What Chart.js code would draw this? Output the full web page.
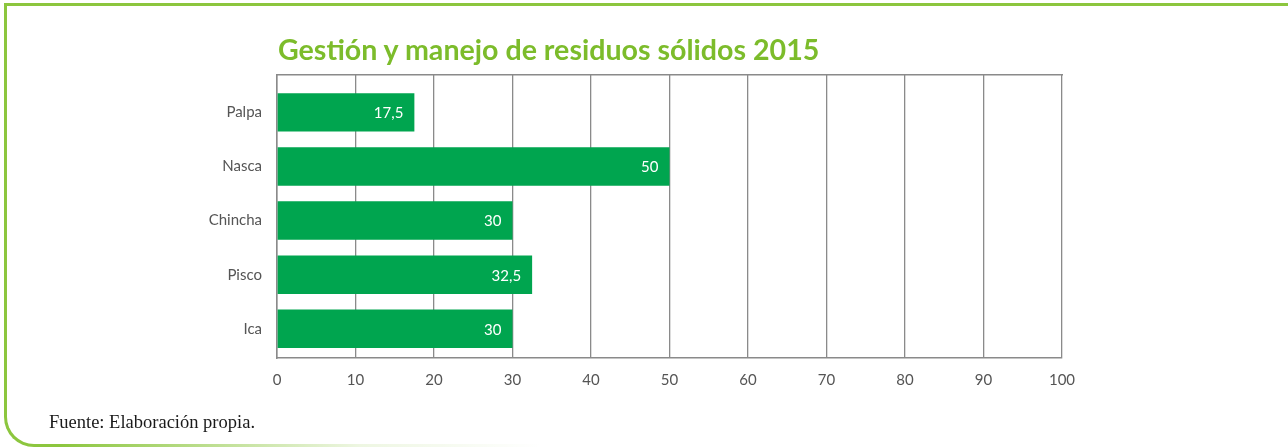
<!DOCTYPE html>
<html lang="es">
<head>
<meta charset="utf-8">
<title>Gestión y manejo de residuos sólidos 2015</title>
<script src="https://cdn.jsdelivr.net/npm/chart.js@4.4.1/dist/chart.umd.min.js"></script>
<style>
  html, body { margin: 0; padding: 0; background: #fff; }
  .page { position: relative; width: 1288px; height: 448px; overflow: hidden; }
  .frame {
    position: absolute; left: 4px; top: 3px; width: 1320px; height: 444px;
    box-sizing: border-box;
    border-top: 3px solid #8cc63e; border-left: 3px solid #8cc63e; border-bottom: 3px solid #8cc63e;
    border-bottom-left-radius: 30px;
  }
  /* fades the bottom rule out towards the right */
  .fade {
    position: absolute; left: 60px; top: 440px; width: 1228px; height: 8px;
    background: linear-gradient(to right, rgba(255,255,255,0) 0px, rgba(255,255,255,0.85) 300px, #fff 480px);
  }
  .title {
    position: absolute; left: 278px; top: 32px; margin: 0;
    font: bold 28.6px "Lato", sans-serif; color: #7cbc2b; white-space: nowrap;
  }
  .source {
    position: absolute; left: 49px; top: 412px;
    font: 18.5px "Liberation Serif", serif; color: #1a1a1a; white-space: nowrap;
  }
  #chart { position: absolute; left: 0; top: 0; }
</style>
</head>
<body>
<div class="page">
  <div class="frame"></div>
  <div class="fade"></div>
  <canvas id="chart" width="1288" height="448"></canvas>
  <h1 class="title">Gestión y manejo de residuos sólidos 2015</h1>
  <div class="source">Fuente: Elaboración propia.</div>
</div>
<script>
// Provinces, top to bottom
const provinces = ["Palpa", "Nasca", "Chincha", "Pisco", "Ica"];
const values = [17.5, 50, 30, 32.5, 30];
const xTicks = [0, 10, 20, 30, 40, 50, 60, 70, 80, 90, 100];

const gridColor = "#8a8a8a";
const tickColor = "#555555";
const barColor = "#00a54f";

// Writes each value in white just inside the end of its bar
const barValueLabels = {
  id: "barValueLabels",
  afterDatasetsDraw(chart) {
    const ctx = chart.ctx;
    const meta = chart.getDatasetMeta(0);
    ctx.save();
    ctx.fillStyle = "#ffffff";
    ctx.font = '15px "Lato", sans-serif';
    ctx.textAlign = "right";
    ctx.textBaseline = "middle";
    meta.data.forEach((bar, i) => {
      const text = String(values[i]).replace(".", ",");
      ctx.fillText(text, bar.x - 11, bar.y + 1);
    });
    ctx.restore();
  },
};

new Chart(document.getElementById("chart"), {
  type: "bar",
  data: {
    datasets: [
      {
        data: values.map((v, i) => ({ x: v, y: i })),
        backgroundColor: barColor,
        borderWidth: 0,
        barPercentage: 0.71,
        categoryPercentage: 1,
      },
    ],
  },
  options: {
    indexAxis: "y",
    responsive: false,
    animation: false,
    layout: { padding: { top: 75, right: 226, bottom: 50, left: 0 } },
    scales: {
      x: {
        type: "linear",
        position: "bottom",
        min: 0,
        max: 100,
        afterBuildTicks: (axis) => {
          axis.ticks = xTicks.map((v) => ({ value: v }));
        },
        afterFit: (axis) => {
          axis.height = 40;
        },
        grid: { color: gridColor, lineWidth: 1.3, drawTicks: false },
        border: { color: gridColor, width: 1.5 },
        ticks: {
          padding: 13,
          color: tickColor,
          font: { family: "Lato", size: 15 },
        },
      },
      top: {
        type: "linear",
        axis: "x",
        position: "top",
        min: 0,
        max: 100,
        grid: { display: false, drawTicks: false },
        border: { color: gridColor, width: 1.5 },
        ticks: { display: false },
      },
      y: {
        type: "linear",
        reverse: true,
        offset: false,
        min: -0.69,
        max: 4.54,
        afterBuildTicks: (axis) => {
          axis.ticks = provinces.map((p, i) => ({ value: i }));
        },
        afterFit: (axis) => {
          axis.width = 277;
        },
        grid: { display: false, drawTicks: false, offset: false },
        border: { color: gridColor, width: 1.5 },
        ticks: {
          padding: 15,
          color: tickColor,
          font: { family: "Lato", size: 15 },
          callback: (value) => provinces[value],
        },
      },
    },
    plugins: {
      legend: { display: false },
      tooltip: { enabled: false },
    },
  },
  plugins: [barValueLabels],
});
</script>
</body>
</html>
